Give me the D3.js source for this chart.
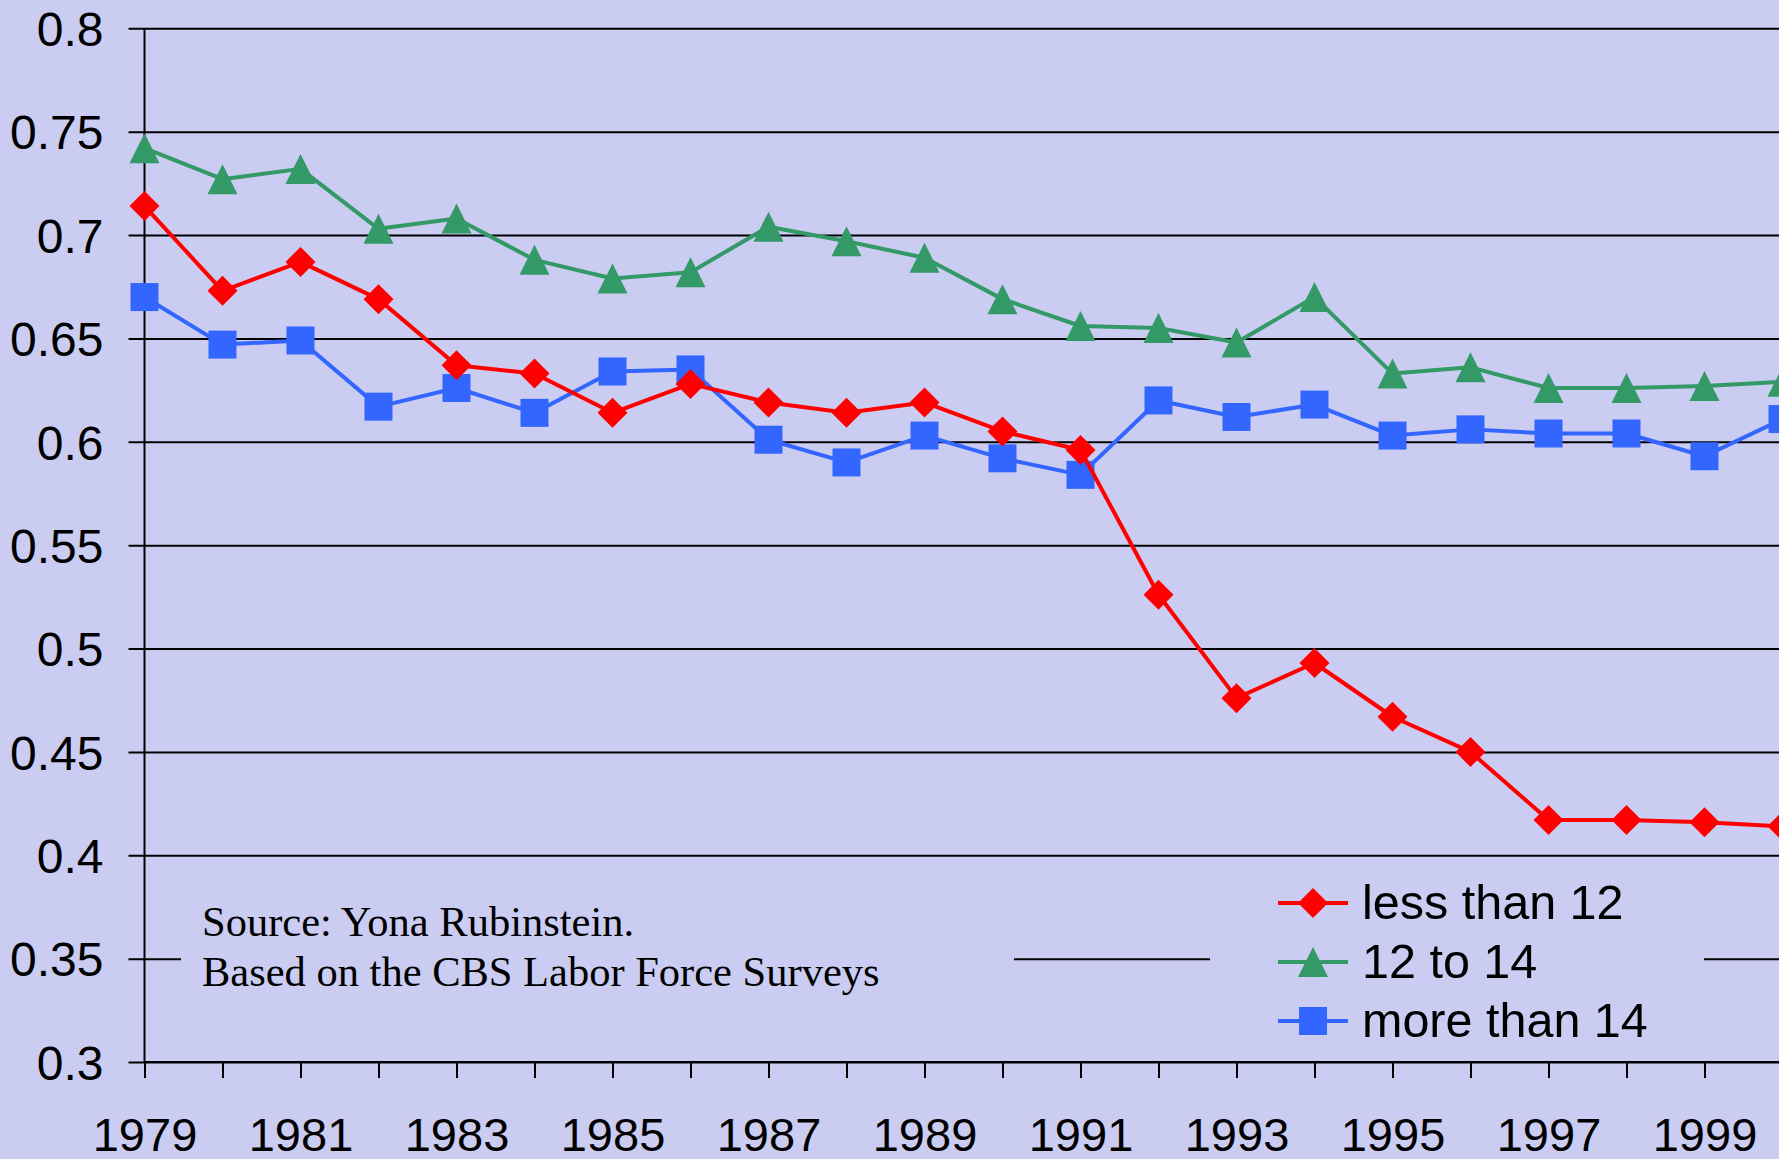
<!DOCTYPE html>
<html>
<head>
<meta charset="utf-8">
<script src="https://cdn.jsdelivr.net/npm/d3@7"></script>
<style>
  html, body { margin: 0; padding: 0; background: #caccf2; overflow: hidden; }
  svg { display: block; }
</style>
</head>
<body>
<script>
// Chart data
const years = d3.range(1979, 2001);
const yTicks = [0.3, 0.35, 0.4, 0.45, 0.5, 0.55, 0.6, 0.65, 0.7, 0.75, 0.8];
const xLabels = [1979, 1981, 1983, 1985, 1987, 1989, 1991, 1993, 1995, 1997, 1999];

const lessThan12 = [0.714, 0.673, 0.687, 0.669, 0.637, 0.633, 0.614, 0.628, 0.619, 0.614, 0.619,
                    0.605, 0.596, 0.526, 0.476, 0.493, 0.467, 0.450, 0.417, 0.417, 0.416, 0.414];
const twelveTo14 = [0.742, 0.727, 0.732, 0.703, 0.708, 0.688, 0.679, 0.682, 0.704, 0.697, 0.689,
                    0.669, 0.656, 0.655, 0.648, 0.670, 0.633, 0.636, 0.626, 0.626, 0.627, 0.629];
const moreThan14 = [0.670, 0.647, 0.649, 0.617, 0.626, 0.614, 0.634, 0.635, 0.601, 0.590, 0.603,
                    0.592, 0.584, 0.620, 0.612, 0.618, 0.603, 0.606, 0.604, 0.604, 0.593, 0.611];

const seriesNames = ["less than 12", "12 to 14", "more than 14"];
const seriesColors = ["#ff0000", "#339966", "#3366ff"];
const seriesValues = [lessThan12, twelveTo14, moreThan14];

const W = 1779, H = 1159;
const bg = "#caccf2";

const svg = d3.select("body").append("svg")
    .attr("width", W)
    .attr("height", H);

svg.append("rect").attr("width", W).attr("height", H).attr("fill", bg);

// scales: 2000 sits just past the right edge, as in the original slide
const xscale = d3.scalePoint().domain(years).range([144.5, 1782.5]);
const yscale = d3.scaleLinear().domain([0.3, 0.8]).range([1062, 28.3]);

// gridlines + y axis
const yaxis = d3.axisLeft(yscale)
    .tickValues(yTicks)
    .tickSize(-(W - 144.5))
    .tickPadding(41)
    .tickFormat(d3.format("~g"));

const g_yaxis = svg.append("g")
    .attr("transform", "translate(144.5,0)")
    .call(yaxis);
g_yaxis.select(".domain").remove();
g_yaxis.selectAll(".tick line")
    .attr("x1", -16)
    .attr("stroke", "#000")
    .attr("stroke-width", 2);
g_yaxis.selectAll(".tick text")
    .attr("font-family", "'Liberation Sans', Arial, sans-serif")
    .attr("font-size", 48)
    .attr("fill", "#000")
    .attr("dy", "0.36em");

// text boxes hide the 0.35 gridline, like the slide's boxes
svg.append("rect")
    .attr("x", 181).attr("y", 880)
    .attr("width", 1014 - 181).attr("height", 130)
    .attr("fill", bg);
svg.append("rect")
    .attr("x", 1210).attr("y", 870)
    .attr("width", 1704 - 1210).attr("height", 180)
    .attr("fill", bg);

// x axis
const xaxis = d3.axisBottom(xscale)
    .tickSize(16)
    .tickPadding(39)
    .tickFormat((d) => xLabels.includes(d) ? d : "");

const g_xaxis = svg.append("g")
    .attr("transform", `translate(0,${yscale(0.3)})`)
    .call(xaxis);
g_xaxis.select(".domain").remove();
g_xaxis.selectAll(".tick line").attr("stroke", "#000").attr("stroke-width", 2);
g_xaxis.selectAll(".tick text")
    .attr("font-family", "'Liberation Sans', Arial, sans-serif")
    .attr("font-size", 47)
    .attr("fill", "#000")
    .attr("dy", "0.72em");

// axis lines
svg.append("line")
    .attr("x1", 144.5).attr("x2", 144.5)
    .attr("y1", yscale(0.8)).attr("y2", yscale(0.3))
    .attr("stroke", "#000").attr("stroke-width", 2);
svg.append("line")
    .attr("x1", 144.5).attr("x2", W)
    .attr("y1", yscale(0.3)).attr("y2", yscale(0.3))
    .attr("stroke", "#000").attr("stroke-width", 2);

// marker shapes (bounding box ~30px, centred on the point)
const markers = [
    (x, y) => `M${x},${y - 15}L${x + 15},${y}L${x},${y + 15}L${x - 15},${y}Z`,
    (x, y) => `M${x},${y - 15}L${x + 15},${y + 15}L${x - 15},${y + 15}Z`,
    (x, y) => `M${x - 14},${y - 14}h28v28h-28Z`
];

const line = d3.line()
    .x((d, i) => xscale(years[i]))
    .y((d) => yscale(d));

// draw series back to front: blue, red, green
[2, 0, 1].forEach((s) => {
    const grp = svg.append("g");
    grp.append("path")
        .datum(seriesValues[s])
        .attr("fill", "none")
        .attr("stroke", seriesColors[s])
        .attr("stroke-width", 4)
        .attr("stroke-linejoin", "round")
        .attr("d", line);
    grp.selectAll("path.marker")
        .data(seriesValues[s])
        .join("path")
        .attr("class", "marker")
        .attr("fill", seriesColors[s])
        .attr("d", (d, i) => markers[s](xscale(years[i]), yscale(d)));
});

// source note
const note = svg.append("text")
    .attr("font-family", "'Liberation Serif', 'Times New Roman', serif")
    .attr("font-size", 42.5)
    .attr("fill", "#000");
note.append("tspan").attr("x", 202).attr("y", 936).text("Source: Yona Rubinstein.");
note.append("tspan").attr("x", 202).attr("y", 986).text("Based on the CBS Labor Force Surveys");

// legend
const legendRows = [903, 962, 1021];
seriesNames.forEach((name, s) => {
    const ly = legendRows[s];
    const lg = svg.append("g");
    lg.append("line")
        .attr("x1", 1278).attr("x2", 1348)
        .attr("y1", ly).attr("y2", ly)
        .attr("stroke", seriesColors[s])
        .attr("stroke-width", 4);
    lg.append("path")
        .attr("fill", seriesColors[s])
        .attr("d", markers[s](1313, ly));
    lg.append("text")
        .attr("x", 1362)
        .attr("y", ly + 16)
        .attr("font-family", "'Liberation Sans', Arial, sans-serif")
        .attr("font-size", 48.5)
        .attr("fill", "#000")
        .text(name);
});
</script>
</body>
</html>
